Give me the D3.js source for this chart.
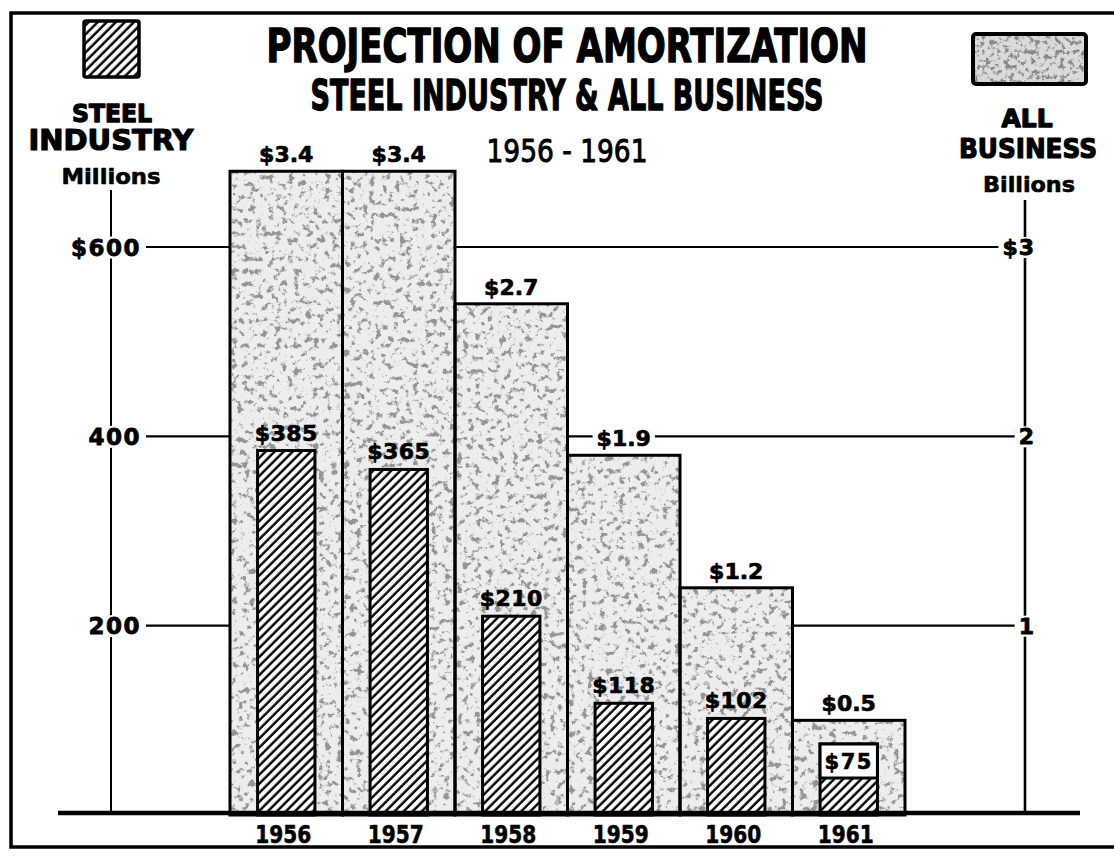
<!DOCTYPE html>
<html>
<head>
<meta charset="utf-8">
<script src="https://cdn.jsdelivr.net/npm/d3@7/dist/d3.min.js"></script>
<style>
  html, body { margin: 0; padding: 0; background: #fff; }
  svg { display: block; }
</style>
</head>
<body>
<script>
// Amortization projections, 1956-1961
const years = ["1956", "1957", "1958", "1959", "1960", "1961"];
const steelMillions = [385, 365, 210, 118, 102, 75];          // steel industry, $ millions
const businessBillions = [3.4, 3.4, 2.7, 1.9, 1.2, 0.5];      // all business, $ billions
const steelLabels = ["$385", "$365", "$210", "$118", "$102", "$75"];
const businessLabels = ["$3.4", "$3.4", "$2.7", "$1.9", "$1.2", "$0.5"];
const steelTicks = [200, 400, 600];
const steelTickLabels = ["200", "400", "$600"];
const businessTicks = [1, 2, 3];
const businessTickLabels = ["1", "2", "$3"];

const W = 1114, H = 856;
const BOLD = "'DejaVu Sans', 'Liberation Sans', sans-serif";
const NARROW = "'Liberation Sans Narrow', 'DejaVu Sans Condensed', 'DejaVu Sans', sans-serif";

const svg = d3.select("body").append("svg").attr("width", W).attr("height", H);

// ----- patterns & texture -----
const defs = svg.append("defs");
const hatch = defs.append("pattern")
  .attr("id", "hatch").attr("patternUnits", "userSpaceOnUse")
  .attr("width", 6.4).attr("height", 6.4)
  .attr("patternTransform", "rotate(45)");
hatch.append("rect").attr("width", 6.4).attr("height", 6.4).attr("fill", "#fff");
hatch.append("line").attr("x1", 1.5).attr("y1", 0).attr("x2", 1.5).attr("y2", 6.4)
  .attr("stroke", "#000").attr("stroke-width", 2.4);

// speckled grey screen for the all-business bars
function makeStipple(id, freq, gain, offset, tone) {
  const f = defs.append("filter").attr("id", id);
  f.append("feTurbulence").attr("type", "fractalNoise")
    .attr("baseFrequency", freq).attr("numOctaves", 4).attr("seed", 11).attr("result", "noise");
  f.append("feColorMatrix").attr("in", "noise").attr("type", "matrix")
    .attr("values", `0 0 0 0 ${tone}  0 0 0 0 ${tone}  0 0 0 0 ${tone}  ${gain} 0 0 0 ${offset}`)
    .attr("result", "spots");
  f.append("feComposite").attr("in", "spots").attr("in2", "SourceGraphic")
    .attr("operator", "in").attr("result", "clipped");
  const m = f.append("feMerge");
  m.append("feMergeNode").attr("in", "SourceGraphic");
  m.append("feMergeNode").attr("in", "clipped");
}
makeStipple("stipple", "0.16", 7, -3.85, 0.3);
makeStipple("stippleDense", "0.2", 6, -3.0, 0.25);

// ----- scales -----
const x = d3.scaleBand().domain(years).range([230, 905]).padding(0);
const yM = d3.scaleLinear().domain([0, 600]).range([815, 247]);
const yB = d3.scaleLinear().domain([0, 3]).range([815, 247]);
const steelW = x.bandwidth() * 0.51;

const gridLayer = svg.append("g");
const barLayer = svg.append("g");
const bgLayer = svg.append("g");
const textLayer = svg.append("g");
const frameLayer = svg.append("g");

function txt(g, t, px, py, o) {
  const el = g.append("text").attr("x", px).attr("y", py).text(t)
    .attr("font-family", o.family || BOLD)
    .attr("font-weight", o.weight || "bold")
    .attr("font-size", o.size)
    .attr("text-anchor", o.anchor || "middle")
    .attr("fill", "#000");
  if (o.width) el.attr("textLength", o.width).attr("lengthAdjust", "spacingAndGlyphs");
  if (o.ls) el.attr("letter-spacing", o.ls);
  if (o.stroke) el.attr("stroke", "#000").attr("stroke-width", o.stroke).attr("stroke-linejoin", "round");
  return el;
}
function backing(el, padX, padY) {
  const b = el.node().getBBox();
  bgLayer.append("rect")
    .attr("x", b.x - padX).attr("y", b.y - padY)
    .attr("width", b.width + padX * 2).attr("height", b.height + padY * 2)
    .attr("fill", "#fff");
}

// ----- grid lines & axes -----
gridLayer.selectAll("line.grid").data(steelTicks).join("line")
  .attr("x1", 111).attr("x2", 1025)
  .attr("y1", d => yM(d)).attr("y2", d => yM(d))
  .attr("stroke", "#000").attr("stroke-width", 2.2);
gridLayer.append("line").attr("x1", 111).attr("x2", 111).attr("y1", 190).attr("y2", 813)
  .attr("stroke", "#000").attr("stroke-width", 2);
gridLayer.append("line").attr("x1", 1025).attr("x2", 1025).attr("y1", 200).attr("y2", 813)
  .attr("stroke", "#000").attr("stroke-width", 2.6);

steelTicks.forEach((t, i) => {
  const el = txt(textLayer, steelTickLabels[i], 141, yM(t) + 8.5, { size: 23, anchor: "end", ls: 1.5, stroke: 0.8 });
  backing(el, 5, -2);
});
businessTicks.forEach((t, i) => {
  const el = txt(textLayer, businessTickLabels[i], 1035, yB(t) + 8, { size: 22, anchor: "end", ls: 1, stroke: 0.8 });
  backing(el, 4, -2);
});

// ----- all-business bars (wide, stippled) -----
barLayer.selectAll("rect.biz").data(businessBillions).join("rect")
  .attr("x", (d, i) => x(years[i])).attr("width", x.bandwidth())
  .attr("y", d => yB(d)).attr("height", d => yB(0) - yB(d))
  .attr("fill", "#ededed").attr("filter", "url(#stipple)");
barLayer.selectAll("rect.bizline").data(businessBillions).join("rect")
  .attr("x", (d, i) => x(years[i])).attr("width", x.bandwidth())
  .attr("y", d => yB(d)).attr("height", d => yB(0) - yB(d))
  .attr("fill", "none").attr("stroke", "#000").attr("stroke-width", 3);

// ----- steel industry bars (narrow, hatched) -----
const sx = i => x(years[i]) + (x.bandwidth() - steelW) / 2;
barLayer.selectAll("rect.steel").data(steelMillions).join("rect")
  .attr("x", (d, i) => sx(i)).attr("width", steelW)
  .attr("y", d => yM(d)).attr("height", d => yM(0) - yM(d))
  .attr("fill", "url(#hatch)").attr("stroke", "#000").attr("stroke-width", 3);

// value labels
businessBillions.forEach((v, i) => {
  const el = txt(textLayer, businessLabels[i], x(years[i]) + x.bandwidth() / 2, yB(v) - 9, { size: 22, stroke: 0.7 });
  backing(el, 4, -1);
});
steelMillions.forEach((v, i) => {
  const cx = sx(i) + steelW / 2;
  const room = yM(v) - yB(businessBillions[i]);
  if (room < 30) {
    // not enough space above the bar: label goes in a white panel at its top
    barLayer.append("rect")
      .attr("x", sx(i)).attr("y", yM(v)).attr("width", steelW).attr("height", 34)
      .attr("fill", "#fff").attr("stroke", "#000").attr("stroke-width", 3);
    txt(textLayer, steelLabels[i], cx, yM(v) + 25, { size: 21, ls: 1.5, stroke: 0.6 });
  } else {
    txt(textLayer, steelLabels[i], cx, yM(v) - 10, { size: 22, ls: 0.5, stroke: 0.7 });
  }
});

// category labels
years.forEach(yr => {
  txt(textLayer, yr, x(yr) + x.bandwidth() / 2 - 3, 843, { size: 25, width: 56, stroke: 0.6 });
});

// ----- titles -----
txt(textLayer, "PROJECTION OF AMORTIZATION", 567, 62, { size: 47, family: NARROW, width: 601, stroke: 1.4 });
txt(textLayer, "STEEL INDUSTRY & ALL BUSINESS", 567, 110, { size: 42, family: NARROW, width: 513, stroke: 1.3 });
txt(textLayer, "1956 - 1961", 567, 162, { size: 32, weight: "normal", width: 161, stroke: 1 });

// ----- legend / axis headers -----
txt(textLayer, "STEEL", 112, 122, { size: 24, width: 80, stroke: 1.3 });
txt(textLayer, "INDUSTRY", 111, 150, { size: 28, width: 165, stroke: 1.2 });
txt(textLayer, "Millions", 111, 184, { size: 21, width: 99, stroke: 0.6 });
txt(textLayer, "ALL", 1027, 127, { size: 24, width: 51, stroke: 1.3 });
txt(textLayer, "BUSINESS", 1028, 158, { size: 27, width: 138, stroke: 1.2 });
txt(textLayer, "Billions", 1029, 192, { size: 21, width: 92, stroke: 0.6 });

frameLayer.append("rect").attr("x", 84).attr("y", 21).attr("width", 55).attr("height", 56)
  .attr("rx", 2).attr("fill", "url(#hatch)").attr("stroke", "#000").attr("stroke-width", 3.5);
frameLayer.append("rect").attr("x", 973).attr("y", 34).attr("width", 113).attr("height", 50)
  .attr("fill", "#dadada").attr("filter", "url(#stippleDense)");
frameLayer.append("rect").attr("x", 973).attr("y", 34).attr("width", 113).attr("height", 50)
  .attr("rx", 3).attr("fill", "none").attr("stroke", "#000").attr("stroke-width", 4);

// ----- baseline & outer frame -----
frameLayer.append("line").attr("x1", 58).attr("x2", 1080).attr("y1", 813).attr("y2", 813)
  .attr("stroke", "#000").attr("stroke-width", 4.5);
frameLayer.append("rect").attr("x", 11).attr("y", 13).attr("width", 1130).attr("height", 834)
  .attr("fill", "none").attr("stroke", "#000").attr("stroke-width", 3.5);
</script>
</body>
</html>
